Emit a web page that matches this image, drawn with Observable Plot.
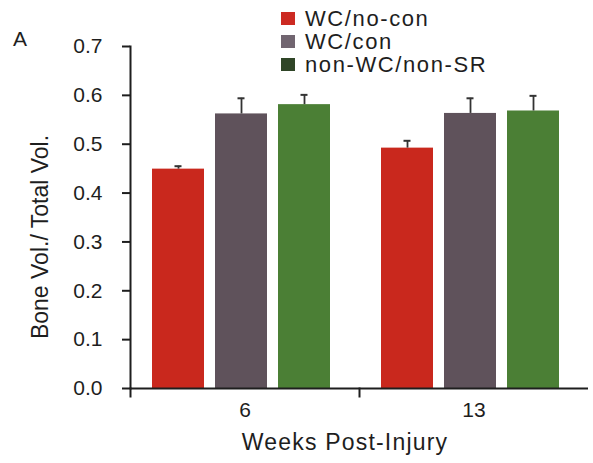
<!DOCTYPE html>
<html>
<head>
<meta charset="utf-8">
<script src="https://cdn.jsdelivr.net/npm/d3@7"></script>
<script src="https://cdn.jsdelivr.net/npm/@observablehq/plot@0.6"></script>
<style>
  html, body { margin: 0; padding: 0; background: #fff; }
  #wrap { position: relative; width: 593px; height: 463px; font-family: "Liberation Sans", Arial, sans-serif; color: #1e1e1e; }
  #panel { position: absolute; left: 13px; top: 28px; font-size: 21px; line-height: 1; }
  #legend { position: absolute; left: 281px; top: 7px; font-size: 22px; letter-spacing: 1.6px; line-height: 20px; }
  #legend .row { display: flex; align-items: center; height: 23px; }
  #legend .sw { width: 14px; height: 13px; margin-right: 10px; flex: none; }
  #chart { position: absolute; left: 0; top: 0; }
  g[aria-label="fx-axis label"] { transform: translate(-14px, 62px); }
  g[aria-label="fx-axis label"] text { font-size: 23px; letter-spacing: 1.2px; }
  g[aria-label="y-axis label"] { transform: translate(-98px, 20px); }
  g[aria-label="y-axis label"] text { font-size: 23px; }
</style>
</head>
<body>
<div id="wrap">
  <div id="chart"></div>
  <div id="panel">A</div>
  <div id="legend"></div>
</div>
<script>
const weeks = ["6", "13"];
const groups = ["WC/no-con", "WC/con", "non-WC/non-SR"];
const week6Values = [0.449, 0.562, 0.581];
const week13Values = [0.492, 0.563, 0.568];
const week6Errors = [0.006, 0.032, 0.020];
const week13Errors = [0.015, 0.031, 0.031];
const barColors = ["#c9281d", "#5f525b", "#4b7f35"];
const legendColors = ["#cc2a22", "#716570", "#2f4527"];
const yTicks = [0, 0.1, 0.2, 0.3, 0.4, 0.5, 0.6, 0.7];
const xLabel = "Weeks Post-Injury";
const yLabel = "Bone Vol./ Total Vol.";

const data = [];
groups.forEach((g, i) => {
  data.push({week: weeks[0], group: g, value: week6Values[i], err: week6Errors[i]});
  data.push({week: weeks[1], group: g, value: week13Values[i], err: week13Errors[i]});
});

const ink = "#1e1e1e";
const chart = Plot.plot({
  width: 593,
  height: 463,
  marginLeft: 130,
  marginTop: 46,
  marginBottom: 75,
  marginRight: 5,
  style: {fontFamily: "Liberation Sans, Arial, sans-serif", color: ink, background: "transparent"},
  fx: {domain: weeks, padding: 0},
  x: {domain: groups, paddingInner: 0.17, paddingOuter: 0.375, align: 0.44, axis: null},
  y: {domain: [0, 0.7]},
  color: {domain: groups, range: barColors},
  marks: [
    Plot.barY(data, {fx: "week", x: "group", y: "value", fill: "group"}),
    Plot.ruleX(data, {fx: "week", x: "group", y1: "value", y2: d => d.value + d.err, stroke: "#333", strokeWidth: 1.8}),
    Plot.tickY(data, {fx: "week", x: "group", y: d => d.value + d.err, stroke: "#333", strokeWidth: 2, insetLeft: 22.5, insetRight: 22.5}),
    Plot.ruleY([0], {stroke: ink, strokeWidth: 2}),
    Plot.frame({anchor: "left", facetAnchor: "left", stroke: ink, strokeWidth: 2}),
    Plot.frame({anchor: "left", insetTop: 342, insetBottom: -8, stroke: ink, strokeWidth: 2}),
    Plot.axisY({ticks: yTicks, tickFormat: d3.format(".1f"), tickSize: 8, tickPadding: 20, strokeWidth: 2, fontSize: 21,
      label: yLabel, labelAnchor: "center", labelArrow: "none", labelOffset: 95}),
    Plot.axisFx({anchor: "bottom", tickSize: 0, tickPadding: 14, fontSize: 21,
      label: xLabel, labelAnchor: "center", labelArrow: "none", labelOffset: 66})
  ]
});
document.getElementById("chart").appendChild(chart);

const legend = document.getElementById("legend");
groups.forEach((g, i) => {
  const row = document.createElement("div");
  row.className = "row";
  const sw = document.createElement("span");
  sw.className = "sw";
  sw.style.background = legendColors[i];
  const t = document.createElement("span");
  t.textContent = g;
  row.appendChild(sw);
  row.appendChild(t);
  legend.appendChild(row);
});
</script>
</body>
</html>
